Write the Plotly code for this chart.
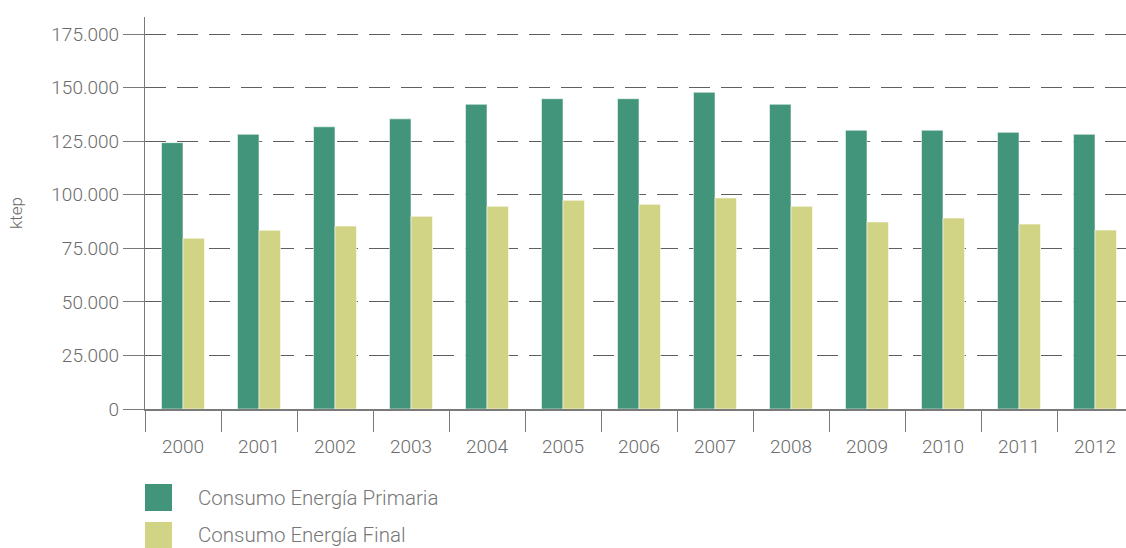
import plotly.graph_objects as go

years = ["2000", "2001", "2002", "2003", "2004", "2005", "2006",
         "2007", "2008", "2009", "2010", "2011", "2012"]
primaria = [124300, 128200, 131700, 135400, 142200, 144800, 144800,
            147800, 142200, 130100, 130100, 129100, 128200]
final = [79700, 83400, 85400, 89900, 94600, 97400, 95500,
         98500, 94600, 87300, 89100, 86300, 83500]
y_ticks = [0, 25000, 50000, 75000, 100000, 125000, 150000, 175000]
series_names = ["Consumo Energía Primaria", "Consumo Energía Final"]
colors = ["#42957A", "#D2D485"]

W, H = 1126, 548
L, T, B = 145, 17, 139
plot_w = W - L
plot_h = H - T - B

fig = go.Figure()
for name, vals, col in zip(series_names, [primaria, final], colors):
    fig.add_trace(go.Bar(
        x=years, y=vals, name=name, showlegend=False,
        marker=dict(color=col, line=dict(color="rgba(255,255,255,0.55)", width=1)),
    ))

font_family = "Roboto, 'Open Sans', sans-serif"
tick_col = "#6b6b6b"
axis_col = "#7a7a7a"

fig.update_layout(
    width=W, height=H,
    margin=dict(l=L, r=0, t=T, b=B, pad=0),
    paper_bgcolor="white", plot_bgcolor="white",
    barmode="group", bargap=0.434, bargroupgap=0,
    separators=",.",
    font=dict(family=font_family, color=tick_col, size=19, weight=300),
    showlegend=False,
)
fig.update_xaxes(
    type="category",
    range=[-0.5, len(years) - 0.5 - 7 / 76],
    tickson="boundaries", ticks="outside", ticklen=21, tickwidth=1.2,
    ticklabelstandoff=19,
    tickcolor=axis_col, showline=True, linecolor=axis_col, linewidth=1.5,
    showgrid=False, tickfont=dict(size=19, color=tick_col, family=font_family, weight=300),
)
fig.update_yaxes(
    range=[0, 175000 * (H - T - B) / 375],
    tickvals=y_ticks, tickformat=",d",
    ticks="outside", ticklen=21, tickwidth=1.2, tickcolor=axis_col,
    showline=True, linecolor=axis_col, linewidth=1.2,
    showgrid=True, gridcolor="#5f5f5f", gridwidth=1.4, griddash="21px,11px",
    zeroline=False,
    tickfont=dict(size=19, color=tick_col, family=font_family, weight=300),
    title=dict(text="ktep", standoff=24,
               font=dict(size=17, color=tick_col, family=font_family, weight=300)),
)

# Legend drawn as shapes + text (large square swatches)
def px_x(px):
    return (px - L) / plot_w

def px_y(py):
    return (H - B - py) / plot_h

legend_rows = [(484, 511), (522, 548)]
for (y0, y1), name, col in zip(legend_rows, series_names, colors):
    fig.add_shape(type="rect", xref="paper", yref="paper",
                  x0=px_x(145), x1=px_x(172), y0=px_y(y1), y1=px_y(y0),
                  fillcolor=col, line=dict(width=0))
    fig.add_annotation(xref="paper", yref="paper", x=px_x(196), y=px_y((y0 + y1) / 2),
                       text=name, showarrow=False, xanchor="left", yanchor="middle",
                       font=dict(size=20.5, color="#777777", family=font_family, weight=300))

fig.write_html("out.html",
               config={"displayModeBar": False},
               post_script="document.body.style.margin='0';document.body.style.overflow='hidden';")
